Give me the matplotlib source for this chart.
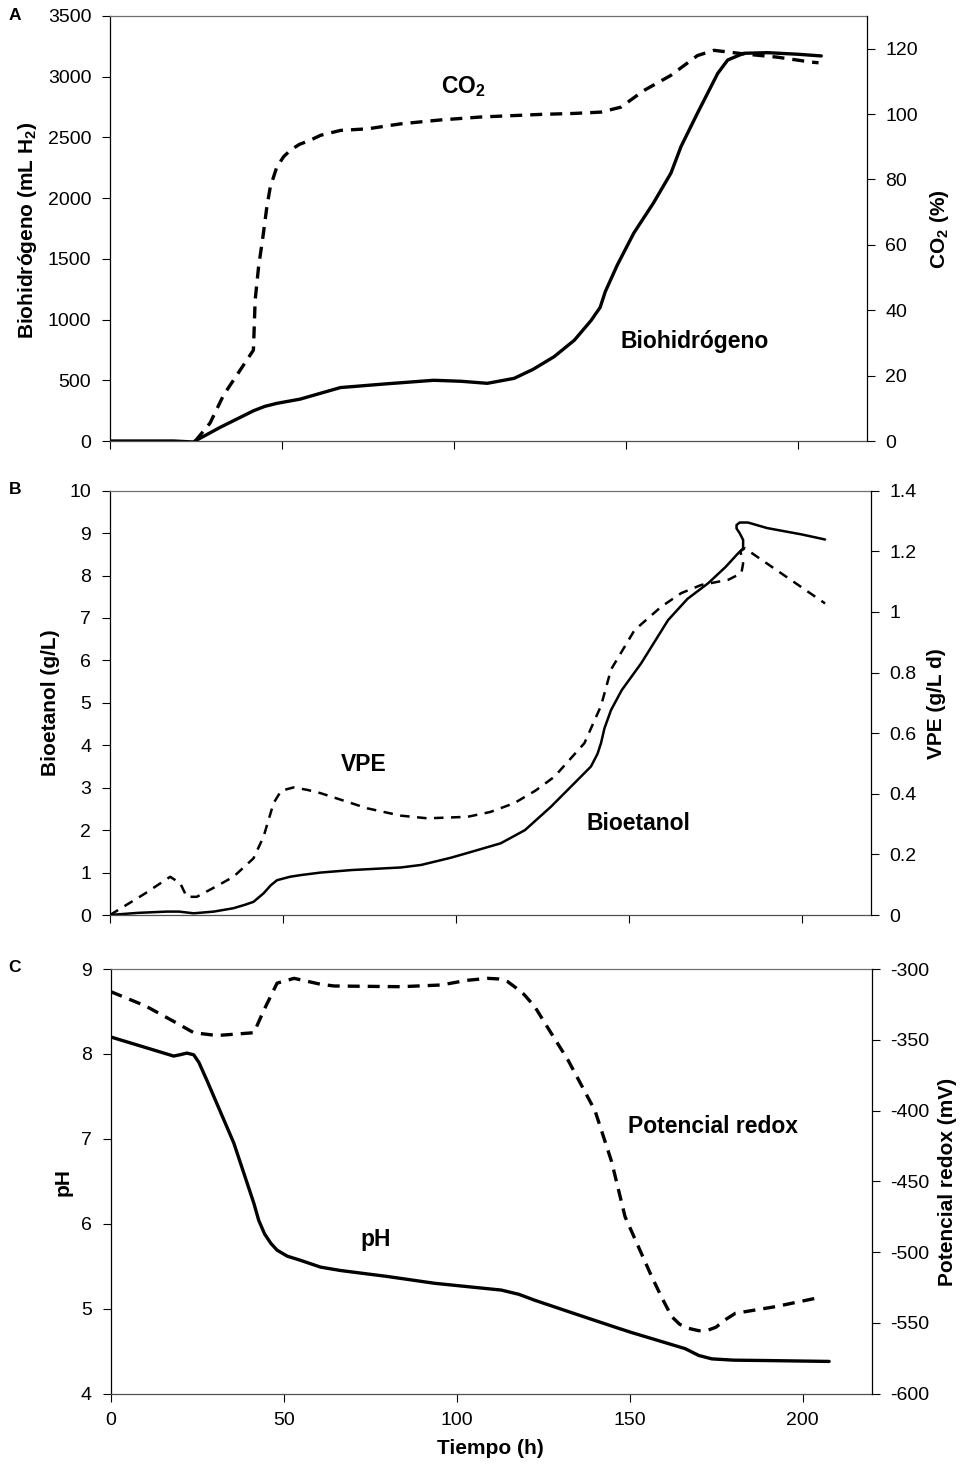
import matplotlib
matplotlib.use('Agg')
import matplotlib.pyplot as plt

plt.rcParams['font.family'] = ['Liberation Sans', 'DejaVu Sans']
plt.rcParams['mathtext.fontset'] = 'custom'
plt.rcParams['mathtext.rm'] = 'Liberation Sans'
plt.rcParams['mathtext.bf'] = 'Liberation Sans:bold'
plt.rcParams['axes.unicode_minus'] = False

# --- Panel A: biohidrógeno (mL) and CO2 (%) ---
t_h2 = [0, 10, 18.5, 24.2, 32, 41.8, 45, 48.5, 52, 55.3, 61.2, 67, 80, 94.1, 102, 109.7,
        117.5, 123, 129.1, 135, 139.8, 142.5, 144, 147.5, 152.3, 158, 163.1, 166,
        170.8, 176.7, 179.6, 184.3, 191.2, 200, 206.8]
h2 = [0, 0, 0, -8, 112, 250, 285, 310, 328, 345, 393, 440, 470, 500, 492, 475,
      516, 590, 694, 830, 990, 1100, 1230, 1450, 1713, 1960, 2207, 2424,
      2700, 3028, 3138, 3193, 3198, 3185, 3171]

t_co2 = [24.8, 29.1, 33, 41.7, 42.2, 43.2, 44.6, 45.6, 46.6, 48.5, 50.5, 52.4, 55, 58.2,
         61.2, 67, 75, 84.4, 96, 107.7, 125.2, 135, 142.7, 148.5, 155.2, 163, 170.8,
         175.6, 184.3, 194.1, 203.8, 206]
co2 = [0, 5.5, 14, 27.8, 43.1, 53.3, 63.5, 71.6, 77.7, 83.8, 87, 88.9, 90.7, 92,
       93.5, 95, 95.5, 97, 98.2, 99.1, 99.9, 100.2, 100.6, 102.1, 107.2, 111.8, 117.9,
       119.5, 118.4, 117.4, 115.9, 115.7]

# --- Panel B: bioetanol (g/L) and VPE (g/L d) ---
t_etoh = [0, 8, 16.4, 20, 24.2, 30, 35.7, 39, 41.5, 44.4, 46.5, 48.3, 52, 55.1, 60.9,
          70, 84.1, 90, 98.6, 105, 113, 120, 127.5, 133, 139.1, 141, 142, 143, 144.9,
          148, 153.6, 161.4, 167, 173, 178, 181.6, 183.1, 183.1, 182.1, 181.2, 181.2,
          182.1, 184.5, 190, 200, 206.8]
etoh = [0, 0.05, 0.08, 0.08, 0.04, 0.08, 0.16, 0.24, 0.31, 0.51, 0.7, 0.82, 0.9, 0.94, 1.0,
        1.06, 1.12, 1.18, 1.35, 1.5, 1.69, 2.0, 2.55, 3.0, 3.5, 3.8, 4.05, 4.4, 4.83,
        5.3, 5.93, 6.95, 7.45, 7.82, 8.2, 8.52, 8.64, 8.84, 9.0, 9.11, 9.19,
        9.25, 9.25, 9.12, 8.97, 8.85]

t_vpe = [0, 5, 10, 17.4, 20.3, 22.2, 25.1, 30, 35.7, 41.5, 44.4, 47.3, 49.5, 53.1, 57,
         60.9, 74.4, 84, 91.8, 103.4, 110, 116.9, 123, 128.5, 137.2, 142, 144.9, 151.7,
         159.4, 165.2, 171, 178.8, 182.6, 183.1, 182.3, 183.6, 206.8]
vpe = [0, 0.035, 0.07, 0.126, 0.105, 0.06, 0.06, 0.09, 0.126, 0.187, 0.258, 0.369, 0.41, 0.421, 0.413,
       0.402, 0.352, 0.328, 0.319, 0.324, 0.34, 0.369, 0.41, 0.456, 0.567, 0.69, 0.81, 0.94,
       1.017, 1.062, 1.089, 1.106, 1.128, 1.16, 1.2, 1.21, 1.028]

# --- Panel C: pH and potencial redox (mV) ---
t_ph = [0, 18.2, 20, 22, 24, 25.5, 27.8, 35.6, 41.4, 42.8, 44.5, 46.3, 48.1, 51, 54.9, 60.7,
        66.5, 80, 93.6, 112.9, 118, 122.6, 135, 146.8, 150.6, 166.1, 170, 173.8, 180,
        190.2, 207.7]
ph = [8.20, 7.975, 7.99, 8.01, 7.99, 7.9, 7.69, 6.95, 6.24, 6.04, 5.88, 5.77, 5.69, 5.62, 5.57, 5.49,
      5.45, 5.38, 5.30, 5.22, 5.17, 5.10, 4.93, 4.77, 4.72, 4.53, 4.45, 4.41, 4.395,
      4.39, 4.38]

t_redox = [0, 10, 18.2, 24, 30.7, 41.4, 44.3, 48.1, 53, 60.7, 64.6, 83.9, 95.5, 103, 109,
           112, 114.8, 117, 119.5, 122.6, 127, 132.2, 140, 144.8, 148.7, 156.4, 159.5,
           162.2, 164.5, 167, 170, 172.8, 175, 177.5, 180.6, 192.2, 203.8]
redox = [-316, -326, -337, -345, -347, -345, -329, -310, -306.6, -310.8, -312, -312.5, -311.3, -308, -306.6,
         -307, -309, -313, -318, -326.6, -344, -364.3, -400, -436, -475, -517.3, -533,
         -545.6, -551, -553.8, -555.5, -555, -553, -548, -543.2, -538.5, -532.6]

W, H = 962, 1464
fig = plt.figure(figsize=(W / 100, H / 100), dpi=100)


def px_axes(l, t, r, b):
    return fig.add_axes([l / W, 1 - b / H, (r - l) / W, (b - t) / H])


def style(ax, tw, show_xlabels):
    ax.set_xlim(0, 220)
    ax.set_xticks([0, 50, 100, 150, 200])
    for a in (ax, tw):
        a.tick_params(direction='out', length=5.5, width=0.8, labelsize=14, pad=8, colors='black')
    ax.tick_params(labelbottom=show_xlabels)
    ax.spines['top'].set_color('#707070')
    ax.spines['bottom'].set_color('#505050')
    ax.spines['left'].set_color('black')
    ax.spines['right'].set_visible(False)
    for s in ('left', 'top', 'bottom'):
        tw.spines[s].set_visible(False)
    tw.spines['right'].set_color('black')
    for a in (ax, tw):
        for sp in a.spines.values():
            sp.set_linewidth(0.9)


lab = dict(fontsize=15, fontweight='bold')
ann = dict(fontsize=16.5, fontweight='bold', ha='center', va='center')
solid = dict(color='black', solid_joinstyle='round', solid_capstyle='round')
dashed = dict(color='black', dash_joinstyle='round', dash_capstyle='butt')

# Panel A
axA = px_axes(110, 16, 866.7, 441)
twA = axA.twinx()
axA.plot(t_h2, h2, lw=2.4, **solid)
twA.plot(t_co2, co2, lw=2.4, linestyle=(0, (3.6, 2.4)), **dashed)
axA.set_ylim(0, 3500)
axA.set_yticks(range(0, 3501, 500))
twA.set_ylim(0, 130)
twA.set_yticks(range(0, 121, 20))
style(axA, twA, False)
axA.text(102.7, 2918, r'CO$_\mathbf{2}$', **ann)
axA.text(169.9, 818, 'Biohidrógeno', **ann)

# Panel B
axB = px_axes(110, 490.7, 870.7, 915)
twB = axB.twinx()
axB.plot(t_etoh, etoh, lw=1.8, **solid)
twB.plot(t_vpe, vpe, lw=1.8, linestyle=(0, (3.8, 3.0)), **dashed)
axB.set_ylim(0, 10)
axB.set_yticks(range(0, 11))
twB.set_ylim(0, 1.4)
twB.set_yticks([0, 0.2, 0.4, 0.6, 0.8, 1.0, 1.2, 1.4])
twB.set_yticklabels(['0', '0.2', '0.4', '0.6', '0.8', '1', '1.2', '1.4'])
style(axB, twB, False)
axB.text(73.3, 3.54, 'VPE', **ann)
axB.text(152.7, 2.16, 'Bioetanol', **ann)

# Panel C
axC = px_axes(110.7, 969, 871.7, 1393.7)
twC = axC.twinx()
axC.plot(t_ph, ph, lw=2.4, **solid)
twC.plot(t_redox, redox, lw=2.4, linestyle=(0, (3.6, 2.4)), **dashed)
axC.set_ylim(4, 9)
axC.set_yticks(range(4, 10))
twC.set_ylim(-600, -300)
twC.set_yticks(range(-600, -299, 50))
style(axC, twC, True)
axC.text(76.5, 5.81, 'pH', **ann)
axC.text(174, 7.14, 'Potencial redox', **ann)


def ftext(x, y, s, **kw):
    fig.text(x / W, 1 - y / H, s, ha='center', va='center', **kw)


ftext(28, 230, r'Biohidrógeno (mL H$_\mathbf{2}$)', rotation=90, **lab)
ftext(940, 229, r'CO$_\mathbf{2}$ (%)', rotation=90, **lab)
ftext(51, 703, 'Bioetanol (g/L)', rotation=90, **lab)
ftext(937, 704, 'VPE (g/L d)', rotation=90, **lab)
ftext(63, 1182, 'pH', rotation=90, **lab)
ftext(948, 1182, 'Potencial redox (mV)', rotation=90, **lab)
ftext(490, 1448, 'Tiempo (h)', **lab)

for letter, y in (('A', 16), ('B', 489), ('C', 967)):
    ftext(15, y, letter, fontsize=12.5, fontweight='bold')

fig.savefig('out.png', dpi=100)
